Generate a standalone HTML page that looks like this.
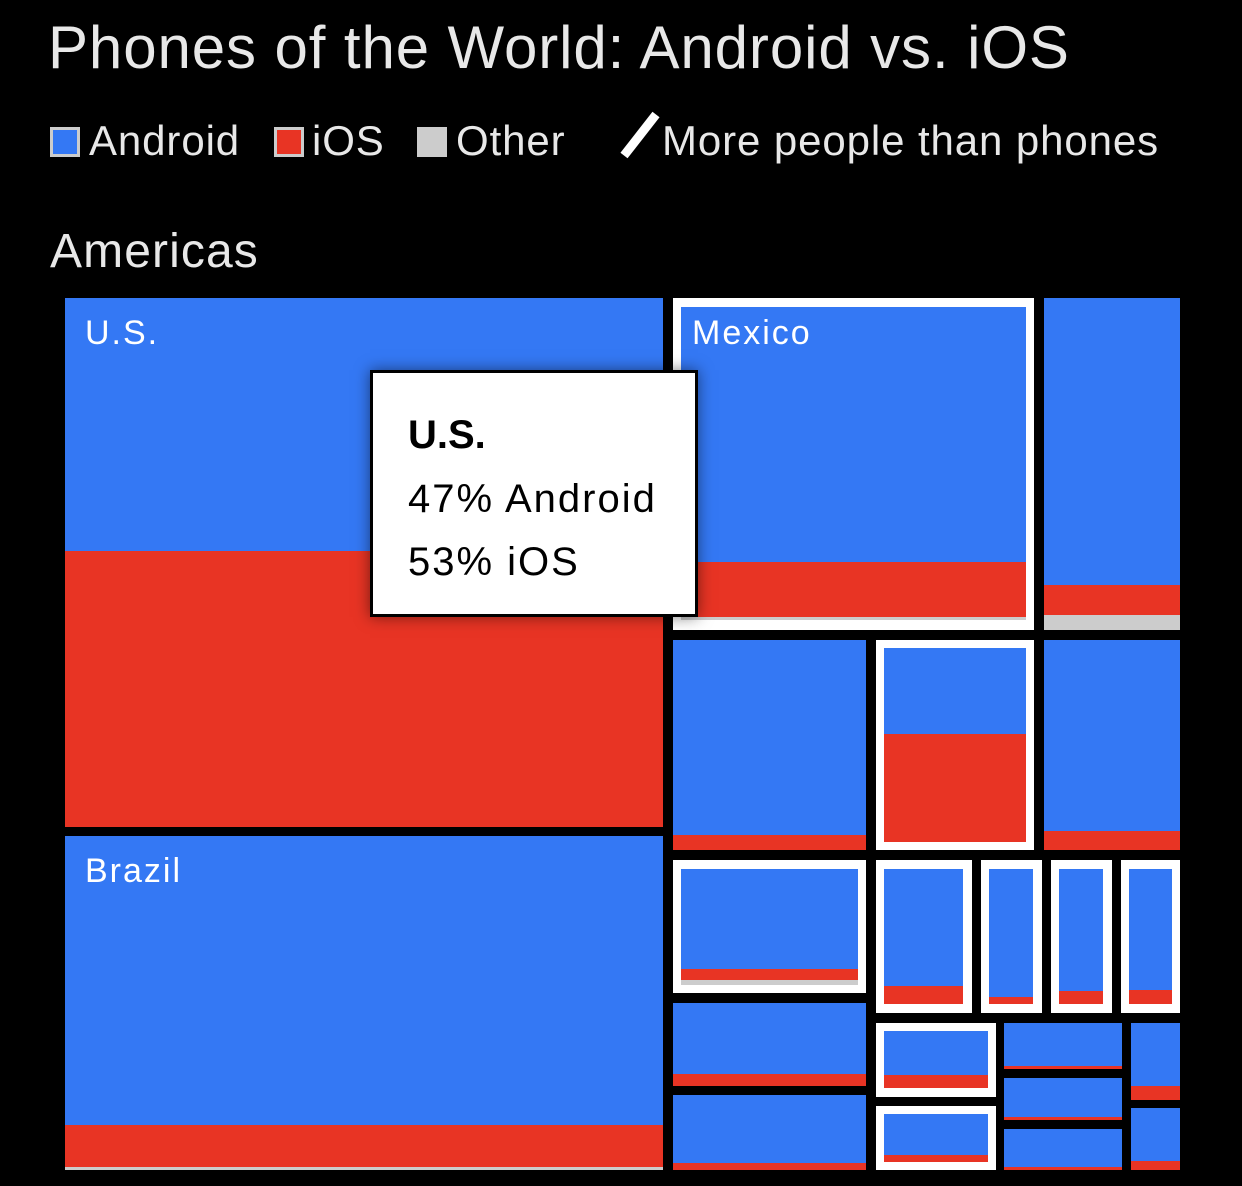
<!DOCTYPE html>
<html><head><style>
body{margin:0;width:1242px;height:1186px;background:#000;position:relative;overflow:hidden;font-family:"Liberation Sans",sans-serif;color:#e8e8e8}
div{position:absolute;box-sizing:border-box}
.b{background:#3478f4}
.r{background:#e83424;left:0;right:0;bottom:0}
.w{background:#fff}
.t{white-space:nowrap;line-height:1}
.lg{font-size:42px;letter-spacing:0.9px}
.lab{font-size:34px;color:#fff;letter-spacing:2px}
.tt{font-size:40px;color:#000;letter-spacing:2px}
</style></head><body>
<div class="t" style="left:48px;top:18px;font-size:60px;letter-spacing:0.9px">Phones of the World: Android vs. iOS</div>
<div style="left:50px;top:127px;width:30px;height:30px;background:#3478f4;border:3px solid #ccc"></div>
<div class="t lg" style="left:89px;top:120px">Android</div>
<div style="left:274px;top:127px;width:30px;height:30px;background:#e83424;border:3px solid #ccc"></div>
<div class="t lg" style="left:312px;top:120px">iOS</div>
<div style="left:417px;top:127px;width:30px;height:30px;background:#ccc"></div>
<div class="t lg" style="left:456px;top:120px">Other</div>
<div style="width:52px;height:9px;background:#fff;transform:rotate(-52deg);transform-origin:0 50%;left:624px;top:151px"></div>
<div class="t lg" style="left:662px;top:120px">More people than phones</div>
<div class="t" style="left:50px;top:228px;font-size:48px;letter-spacing:1.1px">Americas</div>

<!-- US -->
<div class="b" style="left:65px;top:298px;width:598px;height:529px"><div class="r" style="height:276px"></div></div>
<div class="t lab" style="left:85px;top:316px">U.S.</div>
<!-- Brazil -->
<div class="b" style="left:65px;top:836px;width:598px;height:334px;border-bottom:3px solid #ccc"><div class="r" style="height:42px"></div></div>
<div class="t lab" style="left:85px;top:854px">Brazil</div>
<!-- Mexico -->
<div class="w" style="left:673px;top:298px;width:361px;height:332px"></div>
<div class="b" style="left:681px;top:307px;width:345px;height:313px;border-bottom:3px solid #ccc"><div class="r" style="height:55px"></div></div>
<div class="t lab" style="left:692px;top:316px">Mexico</div>
<!-- right col -->
<div class="b" style="left:1044px;top:298px;width:136px;height:332px"><div style="left:0;right:0;bottom:15px;height:30px;background:#e83424"></div><div style="left:0;right:0;bottom:0;height:15px;background:#ccc"></div></div>
<!-- row2 -->
<div class="b" style="left:673px;top:640px;width:193px;height:210px"><div class="r" style="height:15px"></div></div>
<div class="w" style="left:876px;top:640px;width:158px;height:210px"></div>
<div class="b" style="left:884px;top:648px;width:142px;height:194px"><div class="r" style="height:108px"></div></div>
<div class="b" style="left:1044px;top:640px;width:136px;height:210px"><div class="r" style="height:19px"></div></div>
<!-- row3 -->
<div class="w" style="left:673px;top:860px;width:193px;height:133px"></div>
<div class="b" style="left:681px;top:869px;width:177px;height:116px"><div style="left:0;right:0;bottom:5px;height:11px;background:#e83424"></div><div style="left:0;right:0;bottom:0;height:5px;background:#ccc"></div></div>
<div class="w" style="left:876px;top:860px;width:96px;height:153px"></div>
<div class="b" style="left:884px;top:869px;width:79px;height:135px"><div class="r" style="height:18px"></div></div>
<div class="w" style="left:981px;top:860px;width:61px;height:153px"></div>
<div class="b" style="left:989px;top:869px;width:44px;height:135px"><div class="r" style="height:7px"></div></div>
<div class="w" style="left:1051px;top:860px;width:61px;height:153px"></div>
<div class="b" style="left:1059px;top:869px;width:44px;height:135px"><div class="r" style="height:13px"></div></div>
<div class="w" style="left:1121px;top:860px;width:59px;height:153px"></div>
<div class="b" style="left:1129px;top:869px;width:43px;height:135px"><div class="r" style="height:14px"></div></div>
<!-- lower left -->
<div class="b" style="left:673px;top:1003px;width:193px;height:83px"><div class="r" style="height:12px"></div></div>
<div class="b" style="left:673px;top:1095px;width:193px;height:75px"><div class="r" style="height:7px"></div></div>
<div class="w" style="left:876px;top:1023px;width:120px;height:74px"></div>
<div class="b" style="left:884px;top:1031px;width:104px;height:57px"><div class="r" style="height:13px"></div></div>
<div class="w" style="left:876px;top:1106px;width:120px;height:64px"></div>
<div class="b" style="left:884px;top:1114px;width:104px;height:48px"><div class="r" style="height:7px"></div></div>
<div class="b" style="left:1004px;top:1023px;width:118px;height:46px"><div class="r" style="height:3px"></div></div>
<div class="b" style="left:1004px;top:1078px;width:118px;height:42px"><div class="r" style="height:3px"></div></div>
<div class="b" style="left:1004px;top:1129px;width:118px;height:41px"><div class="r" style="height:3px"></div></div>
<div class="b" style="left:1131px;top:1023px;width:49px;height:77px"><div class="r" style="height:14px"></div></div>
<div class="b" style="left:1131px;top:1108px;width:49px;height:62px"><div class="r" style="height:9px"></div></div>

<!-- tooltip -->
<div style="left:370px;top:370px;width:328px;height:247px;background:#fff;border:3px solid #000;box-shadow:0 0 14px rgba(0,0,0,0.5)"></div>
<div class="t tt" style="left:408px;top:415px;font-weight:bold;letter-spacing:0">U.S.</div>
<div class="t tt" style="left:408px;top:479px">47% Android</div>
<div class="t tt" style="left:408px;top:542px">53% iOS</div>
</body></html>
